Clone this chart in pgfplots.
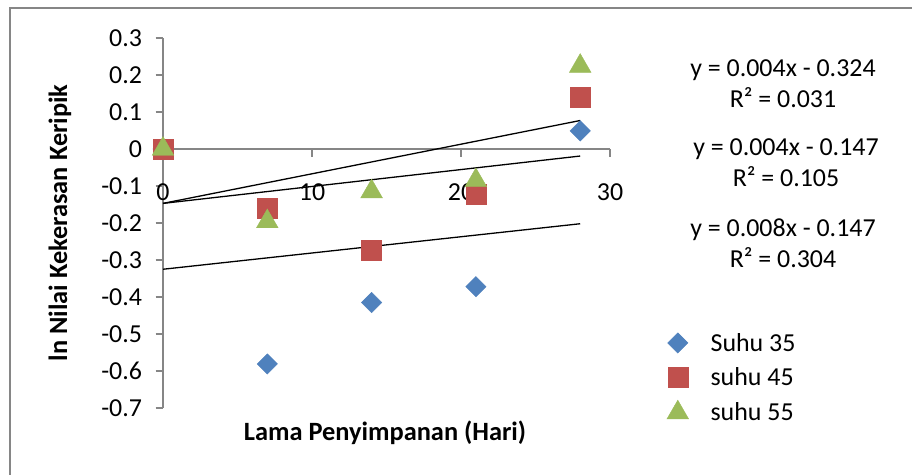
\documentclass[border=0pt]{standalone}
\usepackage{pgfplots}
\pgfplotsset{compat=1.18}
\usepackage{fontspec}
\setmainfont{Carlito}

\definecolor{sBlue}{RGB}{79,129,189}
\definecolor{sRed}{RGB}{192,80,77}
\definecolor{sGreen}{RGB}{155,187,89}
\definecolor{axGray}{RGB}{134,134,134}

\begin{document}
\begin{tikzpicture}[x=1bp,y=1bp]
\useasboundingbox (0,0) rectangle (912,-475);
\fill[white] (0,0) rectangle (912,-475);
% chart area frame
\draw[axGray, line width=2bp] (10,-475) -- (10,-8) -- (912,-8);

\begin{axis}[
  at={(163bp,-408bp)}, anchor=south west,
  scale only axis, width=447bp, height=370bp,
  xmin=0, xmax=30, ymin=-0.7, ymax=0.3,
  axis lines=middle,
  axis line style={-, axGray, line width=1.3bp},
  every tick/.style={axGray, line width=1.3bp},
  major tick length=7.5bp,
  xtick align=outside, ytick align=outside,
  xtick={0,10,20,30},
  ytick={-0.7,-0.6,-0.5,-0.4,-0.3,-0.2,-0.1,0,0.1,0.2,0.3},
  hide obscured x ticks=false, hide obscured y ticks=false,
  /pgf/number format/assume math mode=true,
  /pgf/number format/fixed,
  /pgf/number format/precision=1,
  tick label style={font=\fontsize{26}{30}\selectfont},
  xticklabel style={anchor=center, yshift=-36bp},
  yticklabel style={anchor=east, xshift=-10bp},
  xlabel={\textbf{Lama Penyimpanan (Hari)}},
  ylabel={\textbf{ln Nilai Kekerasan Keripik}},
  label style={font=\fontsize{26.5}{30}\selectfont},
  xlabel style={at={(axis description cs:0.4966,-0.0676)}, anchor=center},
  ylabel style={at={(axis description cs:-0.2304,0.5)}, anchor=center, rotate=90},
  clip=false,
  legend style={draw=none, fill=none, at={(axis description cs:1.127,0.208)},
    anchor=north west, font=\fontsize{26}{30}\selectfont,
    row sep=11bp, inner sep=0pt},
  legend cell align=left,
  legend image code/.code={\draw[#1] (0bp,0bp) -- plot coordinates {(6bp,0bp)};},
]
% measured values, ln of hardness
\addplot[only marks, mark=square*, mark size=7.2bp, mark options={rotate=45}, color=sBlue]
  coordinates {(0,0) (7,-0.581) (14,-0.415) (21,-0.372) (28,0.049)};
\addlegendentry{\hspace{20bp}Suhu 35}
\addplot[only marks, mark=square*, mark size=10bp, color=sRed]
  coordinates {(0,0) (7,-0.160) (14,-0.273) (21,-0.122) (28,0.141)};
\addlegendentry{\hspace{20bp}suhu 45}
\addplot[only marks, mark=triangle*, mark size=12.5bp, color=sGreen]
  coordinates {(0,0) (7,-0.196) (14,-0.115) (21,-0.085) (28,0.224)};
\addlegendentry{\hspace{20bp}suhu 55}

% linear trend lines
\addplot[black, line width=1.3bp, forget plot] coordinates {(0,-0.325) (28,-0.202)};
\addplot[black, line width=1.3bp, forget plot] coordinates {(0,-0.147) (28,-0.019)};
\addplot[black, line width=1.3bp, forget plot] coordinates {(0,-0.147) (28,0.077)};
\end{axis}

% trend line equations
\begin{scope}[every node/.style={align=center, font=\fontsize{26}{31}\selectfont, inner sep=0pt}]
\node at (783,-84) {y = 0.004x - 0.324\\R² = 0.031};
\node at (786,-163) {y = 0.004x - 0.147\\R² = 0.105};
\node at (783,-243) {y = 0.008x - 0.147\\R² = 0.304};
\end{scope}
\end{tikzpicture}
\end{document}
